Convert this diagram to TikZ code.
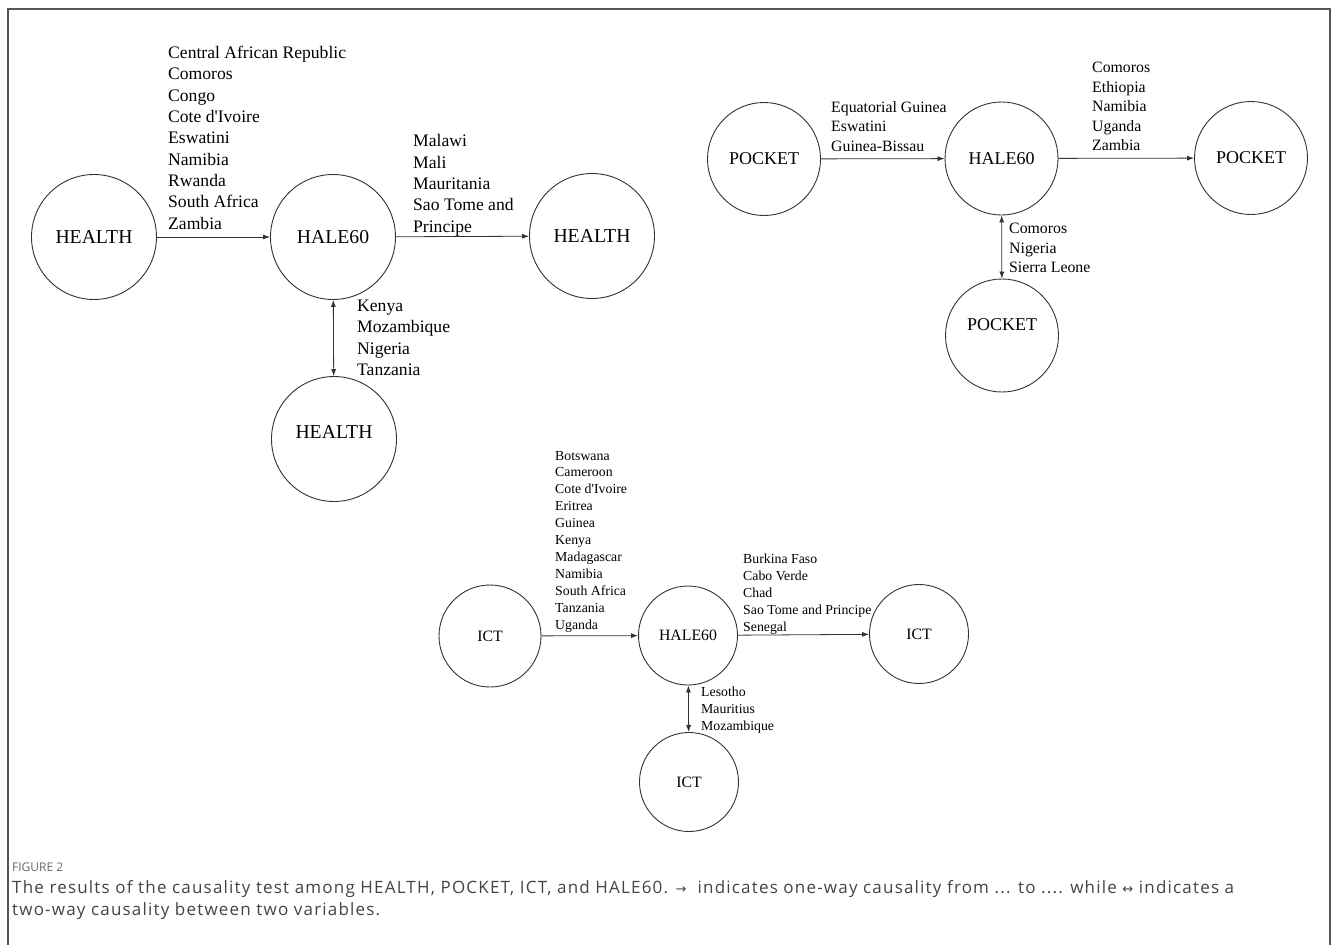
\documentclass[tikz,border=0pt]{standalone}
\usepackage{fontspec}
\setmainfont{Liberation Serif}
\newfontfamily\capfont[LetterSpace=7]{Open Sans}
\newfontfamily\figfont{Open Sans}
\newfontfamily\symfont{DejaVu Sans}
\usetikzlibrary{arrows.meta}
\definecolor{ln}{HTML}{333333}
\definecolor{framec}{HTML}{555555}
\definecolor{capgray}{HTML}{666666}
\definecolor{captext}{HTML}{444444}
\newcommand{\apo}{\textquotesingle}
\tikzset{
  vnode/.style={circle, draw=ln, line width=0.9pt, inner sep=0pt, text=black},
  bignode/.style={vnode, minimum size=125pt, font=\fontsize{19.7}{22}\selectfont},
  midnode/.style={vnode, minimum size=113pt, font=\fontsize{18}{20}\selectfont},
  smallnode/.style={vnode, minimum size=99pt, font=\fontsize{15.8}{18}\selectfont},
  lab/.style={anchor=base west, align=left, inner sep=0pt, text=black},
  labbig/.style={lab, font=\fontsize{17.6}{21.3}\selectfont},
  labmid/.style={lab, font=\fontsize{15.8}{19.4}\selectfont},
  labsmall/.style={lab, font=\fontsize{13.8}{16.9}\selectfont},
  conn/.style={draw=ln, line width=0.8pt, -{Latex[length=7pt,width=5pt]}},
  both/.style={draw=ln, line width=0.8pt, {Latex[length=7pt,width=5pt]}-{Latex[length=7pt,width=5pt]}},
  txt/.style={inner sep=0pt}
}
\begin{document}
\begin{tikzpicture}[x=1pt,y=-1pt]
\useasboundingbox (0,0) rectangle (1333,945);
\fill[white] (0,0) rectangle (1333,945);
% frame
\draw[framec, line width=1.3pt] (8,945) -- (8,9) -- (1330,9) -- (1330,945);

% ---------- HEALTH cluster ----------
\node[bignode] (hl) at (94,237) {HEALTH};
\node[bignode] (hc) at (333,237) {HALE60};
\node[bignode] (hr) at (592,236) {HEALTH};
\node[bignode] (hb) at (334,439) {};
\node[txt, font=\fontsize{19.7}{22}\selectfont] (hbt) at (334,432) {HEALTH};
\draw[conn] (hl) -- (hc);
\draw[conn] (hc) -- (hr);
\draw[both] (hc) -- (hb);
% anchors are at the baseline of the last line
\node[labbig] (hl1) at (168,229) {Central African Republic\\Comoros\\Congo\\Cote d\apo Ivoire\\Eswatini\\Namibia\\Rwanda\\South Africa\\Zambia};
\node[labbig] (hl2) at (413,232) {Malawi\\Mali\\Mauritania\\Sao Tome and\\Principe};
\node[labbig] (hl3) at (357,375.5) {Kenya\\Mozambique\\Nigeria\\Tanzania};

% ---------- POCKET cluster ----------
\node[midnode] (pl) at (764,159) {POCKET};
\node[midnode] (pc) at (1001.5,158.5) {HALE60};
\node[midnode] (pr) at (1251,158) {POCKET};
\node[midnode] (pb) at (1002,335.5) {};
\node[txt, font=\fontsize{18}{20}\selectfont] (pbt) at (1002,325) {POCKET};
\draw[conn] (pl) -- (pc);
\draw[conn] (pc) -- (pr);
\draw[both] (pc) -- (pb);
\node[labmid] (pl1) at (831,151) {Equatorial Guinea\\Eswatini\\Guinea-Bissau};
\node[labmid] (pl2) at (1092,150.5) {Comoros\\Ethiopia\\Namibia\\Uganda\\Zambia};
\node[labmid] (pl3) at (1009,272.5) {Comoros\\Nigeria\\Sierra Leone};

% ---------- ICT cluster ----------
\node[smallnode, minimum size=102pt] (il) at (490,636) {ICT};
\node[smallnode] (ic) at (688,635.5) {HALE60};
\node[smallnode] (ir) at (919,634) {ICT};
\node[smallnode] (ib) at (689,782) {ICT};
\draw[conn] (il) -- (ic);
\draw[conn] (ic) -- (ir);
\draw[both] (ic) -- (ib);
\node[labsmall] (il1) at (555,629) {Botswana\\Cameroon\\Cote d\apo Ivoire\\Eritrea\\Guinea\\Kenya\\Madagascar\\Namibia\\South Africa\\Tanzania\\Uganda};
\node[labsmall] (il2) at (743,631.5) {Burkina Faso\\Cabo Verde\\Chad\\Sao Tome and Principe\\Senegal};
\node[labsmall] (il3) at (701,730.5) {Lesotho\\Mauritius\\Mozambique};

% ---------- caption ----------
\node[txt, anchor=base west, text=capgray, font=\figfont\fontsize{12}{14}\selectfont] (cap0) at (12,871) {FIGURE 2};
\node[txt, anchor=base west, text=captext, font=\capfont\fontsize{17}{18}\selectfont] (cap1) at (12,893) {The results of the causality test among HEALTH, POCKET, ICT, and HALE60. {\symfont\fontsize{13}{14}\selectfont →}\ \ indicates one-way causality from ... to .... while {\symfont\fontsize{13}{14}\selectfont ↔} indicates a};
\node[txt, anchor=base west, text=captext, font=\capfont\fontsize{17}{18}\selectfont] (cap2) at (12,915) {two-way causality between two variables.};
\end{tikzpicture}
\end{document}
